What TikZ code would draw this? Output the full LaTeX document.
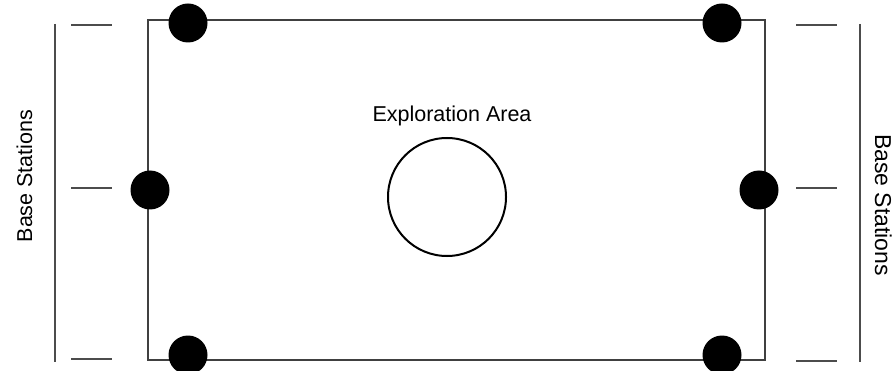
\documentclass[tikz,border=0pt]{standalone}
\usepackage{fontspec}
\setmainfont{Liberation Sans}
\usetikzlibrary{positioning}

\begin{document}
\begin{tikzpicture}[x=1pt, y=-1pt,
		station/.style={circle, fill=black, inner sep=0pt, minimum size=39pt},
		tick/.style={draw=black!70, line width=1.5pt},
		every node/.style={font=\fontsize{21.5}{26}\selectfont}
		]
		\useasboundingbox (0,0) rectangle (896,371);
		\node [draw=black!75, line width=1.5pt, inner sep=0pt, minimum width=617pt, minimum height=340pt] (field) at (456.5,190) {};
		\node [station] (nw) at (188,23) {};
		\node [station] (ne) at (722,23) {};
		\node [station] (west) at (150,190) {};
		\node [station] (east) at (759,190) {};
		\node [station] (sw) at (188,355) {};
		\node [station] (se) at (722,355) {};
		\node [circle, draw=black, line width=2pt, inner sep=0pt, minimum size=118pt] (target) at (447,197) {};
		\node (title) at (452,116) {Exploration Area};
		% base station rails
		\draw [tick] (55,24) -- (55,362);
		\draw [tick] (71,25) -- (112,25);
		\draw [tick] (71,188) -- (112,188);
		\draw [tick] (71,359) -- (112,359);
		\draw [tick] (860,24) -- (860,362);
		\draw [tick] (796,25) -- (837,25);
		\draw [tick] (796,188) -- (837,188);
		\draw [tick] (796,361) -- (837,361);
		\node [rotate=90, anchor=base] (left label) at (32,176) {Base Stations};
		\node [rotate=-90, anchor=base, font=\fontsize{23}{28}\selectfont] (right label) at (875,205) {Base Stations};
	\end{tikzpicture}
\end{document}
